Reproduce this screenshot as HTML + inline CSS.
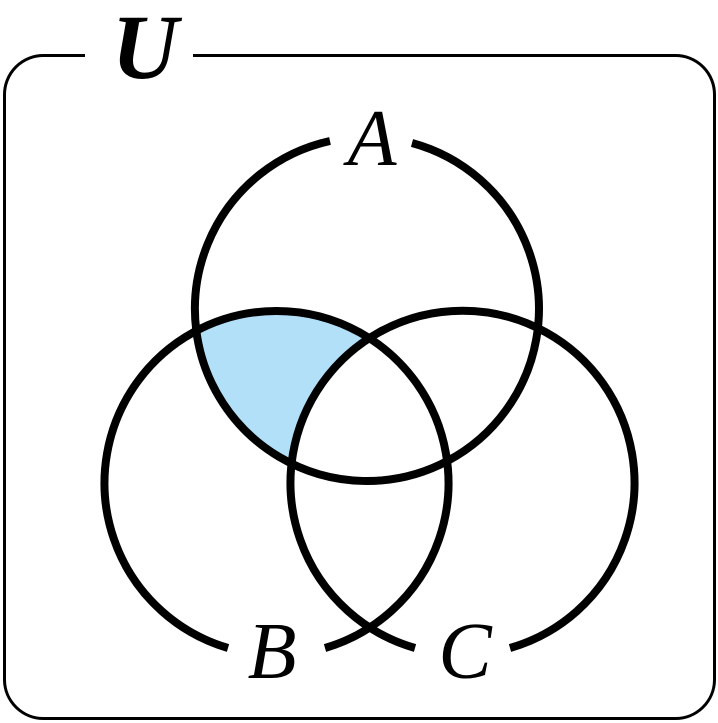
<!DOCTYPE html>
<html><head><style>html,body{margin:0;padding:0;background:#fff}svg{display:block}</style></head>
<body>
<svg width="718" height="723" viewBox="0 0 718 723" xmlns="http://www.w3.org/2000/svg">
<defs><clipPath id="cb"><circle cx="275" cy="483" r="172"/></clipPath></defs>
<circle cx="368" cy="309" r="172" fill="#b3e0f9" clip-path="url(#cb)"/>
<circle cx="463" cy="483" r="172" fill="#fff"/>
<path d="M85 55.5 H44 A39 39 0 0 0 4.5 95 V680 A39 39 0 0 0 44 718.5 H675 A39 39 0 0 0 714.5 680 V95 A39 39 0 0 0 675 55.5 H193" fill="none" stroke="#000" stroke-width="3"/>
<g fill="none" stroke="#000" stroke-width="8">
<path d="M412 143 A172 172 0 1 1 330 141"/>
<path d="M228 648 A172 172 0 1 1 325 648"/>
<path d="M415 648 A172 172 0 1 1 510 648"/>
</g>
<g font-family="Liberation Serif, serif" font-style="italic" text-anchor="middle">
<text x="145" y="78" font-size="92" font-weight="bold">U</text>
<text x="372" y="165" font-size="80">A</text>
<text x="272" y="678" font-size="80">B</text>
<text x="465" y="678" font-size="80">C</text>
</g>
</svg>
</body></html>
